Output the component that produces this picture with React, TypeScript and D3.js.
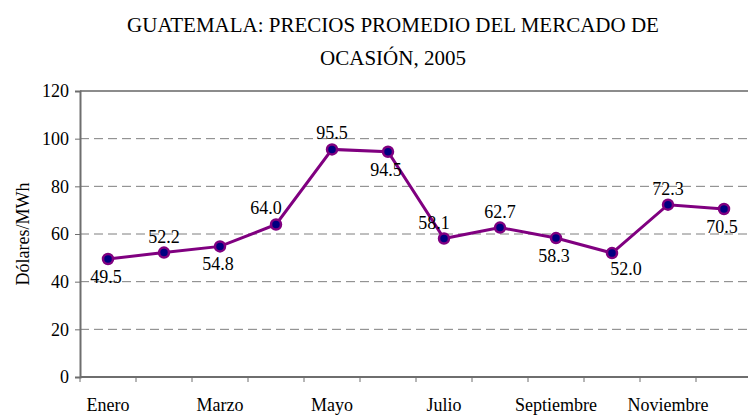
import React, { useEffect, useRef } from 'react';
import * as d3 from 'd3';

const months = ['Enero', 'Febrero', 'Marzo', 'Abril', 'Mayo', 'Junio', 'Julio', 'Agosto', 'Septiembre', 'Octubre', 'Noviembre', 'Diciembre'];
const prices = [49.5, 52.2, 54.8, 64.0, 95.5, 94.5, 58.1, 62.7, 58.3, 52.0, 72.3, 70.5];
// where each value label sits relative to its point
const labelPlacement = ['below', 'above', 'below', 'aboveLeft', 'above', 'below', 'aboveLeft', 'above', 'below', 'belowRight', 'above', 'below'];
const yTicks = [0, 20, 40, 60, 80, 100, 120];
const titleLines = ['GUATEMALA: PRECIOS PROMEDIO DEL MERCADO DE', 'OCASIÓN, 2005'];

const FONT = 'Liberation Serif';

const App = () => {
  const svgRef = useRef<SVGSVGElement | null>(null);

  useEffect(() => {
    if (!svgRef.current) return;
    const W = 748;
    const H = 417;
    const svg = d3.select(svgRef.current)
      .attr('width', W)
      .attr('height', H)
      .attr('font-family', FONT);
    svg.selectAll('*').remove();

    const left = 80, right = 752, top = 91, bottom = 377;

    const x = d3.scaleBand().domain(months).range([left, right]);
    const y = d3.scaleLinear().domain([0, 120]).range([bottom, top]);
    const cx = (m: string) => x(m)! + x.bandwidth() / 2;

    // title
    svg.append('g')
      .selectAll('text')
      .data(titleLines)
      .join('text')
      .attr('x', 393)
      .attr('y', (d, i) => 32 + i * 33)
      .attr('text-anchor', 'middle')
      .attr('font-family', FONT)
      .attr('font-size', 21)
      .attr('fill', '#000')
      .text(d => d);

    // gridlines
    svg.append('g')
      .selectAll('line')
      .data(yTicks.filter(t => t > 0 && t < 120))
      .join('line')
      .attr('x1', left)
      .attr('x2', right)
      .attr('y1', d => y(d))
      .attr('y2', d => y(d))
      .attr('stroke', '#7f7f7f')
      .attr('stroke-width', 1)
      .attr('stroke-dasharray', '9,5');

    // top border
    svg.append('line')
      .attr('x1', left).attr('x2', right)
      .attr('y1', y(120)).attr('y2', y(120))
      .attr('stroke', '#8c8c8c').attr('stroke-width', 2);

    // y axis
    const yAxis = svg.append('g')
      .attr('transform', `translate(${left},0)`)
      .call(d3.axisLeft(y).tickValues(yTicks).tickSize(5).tickPadding(6))
      .attr('font-family', FONT)
      .attr('font-size', 18);
    yAxis.select('.domain').attr('stroke', '#6e6e6e').attr('stroke-width', 2);
    yAxis.selectAll('.tick line').attr('stroke', '#6e6e6e');
    yAxis.selectAll('text').attr('fill', '#000');

    // x axis
    const xAxis = svg.append('g')
      .attr('transform', `translate(0,${bottom})`);
    xAxis.append('line')
      .attr('x1', left).attr('x2', right)
      .attr('stroke', '#6e6e6e').attr('stroke-width', 2);
    xAxis.selectAll('line.tk')
      .data(months)
      .join('line')
      .attr('class', 'tk')
      .attr('x1', d => x(d)!)
      .attr('x2', d => x(d)!)
      .attr('y1', 0)
      .attr('y2', 5)
      .attr('stroke', '#6e6e6e');
    xAxis.selectAll('text')
      .data(months.filter((m, i) => i % 2 === 0))
      .join('text')
      .attr('x', d => cx(d))
      .attr('y', 34)
      .attr('text-anchor', 'middle')
      .attr('font-family', FONT)
      .attr('font-size', 18)
      .attr('fill', '#000')
      .text(d => d);

    // y label
    svg.append('text')
      .attr('transform', `translate(29,${(top + bottom) / 2}) rotate(-90)`)
      .attr('text-anchor', 'middle')
      .attr('font-family', FONT)
      .attr('font-size', 18)
      .attr('fill', '#000')
      .text('Dólares/MWh');

    const data = months.map((m, i) => ({ m, v: prices[i], p: labelPlacement[i] }));

    const line = d3.line<any>()
      .x(d => cx(d.m))
      .y(d => y(d.v));

    svg.append('path')
      .datum(data)
      .attr('fill', 'none')
      .attr('stroke', '#800080')
      .attr('stroke-width', 3)
      .attr('d', line);

    svg.append('g')
      .selectAll('circle')
      .data(data)
      .join('circle')
      .attr('cx', d => cx(d.m))
      .attr('cy', d => y(d.v))
      .attr('r', 5)
      .attr('fill', '#000080')
      .attr('stroke', '#800080')
      .attr('stroke-width', 2.5);

    const offsets: Record<string, [number, number]> = {
      below: [-2, 24],
      above: [0, -10],
      aboveLeft: [-10, -10],
      belowRight: [14, 22],
    };

    svg.append('g')
      .selectAll('text')
      .data(data)
      .join('text')
      .attr('x', d => cx(d.m) + offsets[d.p][0])
      .attr('y', d => y(d.v) + offsets[d.p][1])
      .attr('text-anchor', 'middle')
      .attr('font-family', FONT)
      .attr('font-size', 18)
      .attr('fill', '#000')
      .text(d => d.v.toFixed(1));
  }, []);

  return (
    <div style={{ position: 'absolute', left: 0, top: 0, width: 748, height: 417, background: '#fff' }}>
      <svg ref={svgRef} style={{ display: 'block' }} />
    </div>
  );
};

export default App;
